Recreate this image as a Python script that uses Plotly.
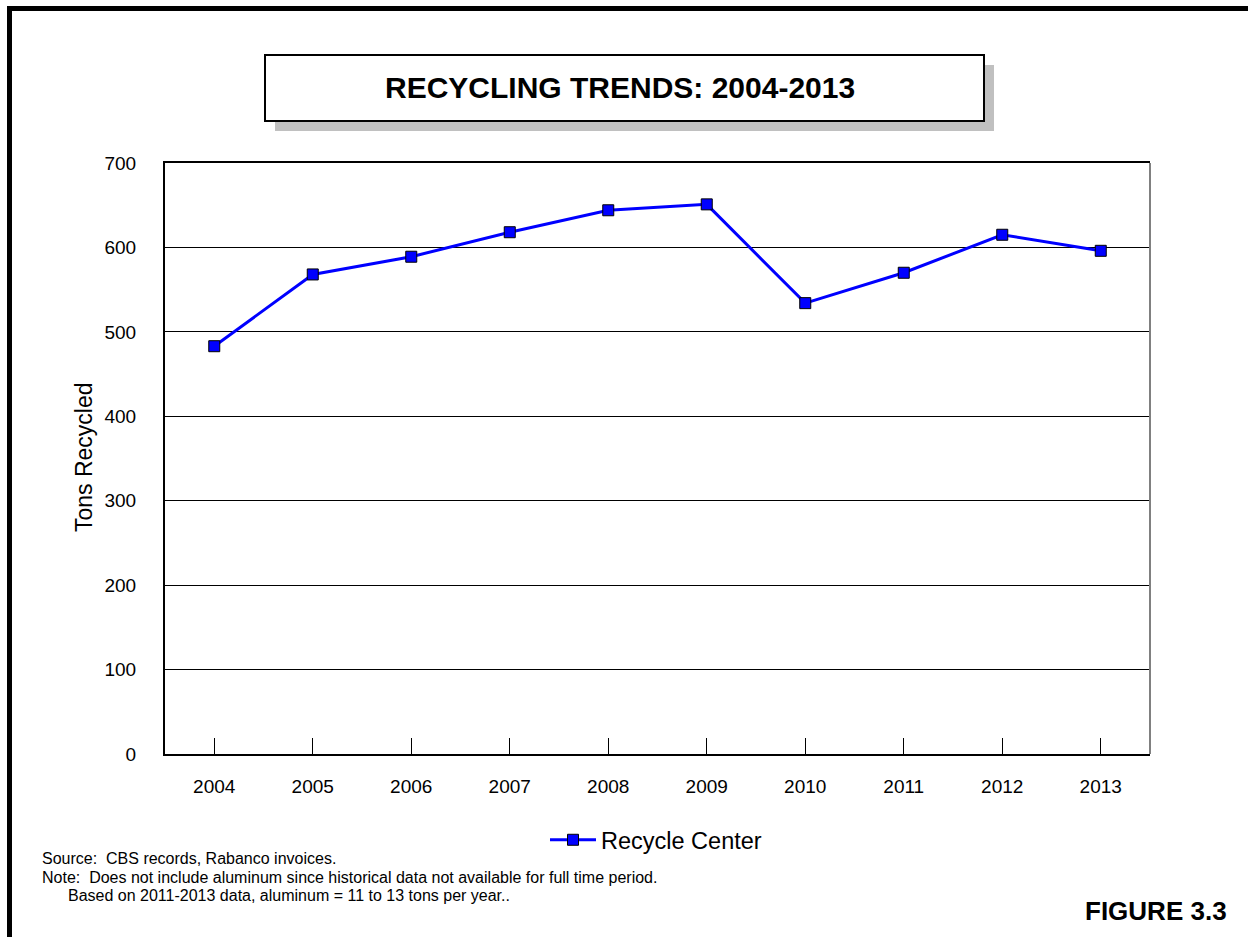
import plotly.graph_objects as go

# Annual tonnage at the recycle center
years = ["2004", "2005", "2006", "2007", "2008", "2009", "2010", "2011", "2012", "2013"]
tons = [483, 568, 589, 618, 644, 651, 534, 570, 615, 596]
series_name = "Recycle Center"

y_ticks = [0, 100, 200, 300, 400, 500, 600, 700]

W, H = 1248, 937
L, R, T, B = 165, 1150, 163, 754  # plot area in pixels
FONT = "Arial, Liberation Sans, sans-serif"


def px(x):
    return (x - L) / (R - L)


def py(y):
    return (B - y) / (B - T)


fig = go.Figure()
fig.add_trace(go.Scatter(
    x=years, y=tons, name=series_name, mode="lines+markers",
    line=dict(color="#0000ff", width=3),
    marker=dict(symbol="square", size=11, color="#0000ff",
                line=dict(color="#000000", width=1)),
))

shapes = [
    # page border (top and left edges)
    dict(type="rect", xref="paper", yref="paper", x0=px(7), x1=px(1300), y0=py(6), y1=py(11),
         fillcolor="#000000", line=dict(width=0), layer="above"),
    dict(type="rect", xref="paper", yref="paper", x0=px(7), x1=px(12), y0=py(6), y1=py(1000),
         fillcolor="#000000", line=dict(width=0), layer="above"),
    # title box with drop shadow
    dict(type="rect", xref="paper", yref="paper", x0=px(275), x1=px(994), y0=py(65), y1=py(131),
         fillcolor="#c0c0c0", line=dict(width=0)),
    dict(type="rect", xref="paper", yref="paper", x0=px(265), x1=px(984), y0=py(55), y1=py(121),
         fillcolor="#ffffff", line=dict(color="#000000", width=2)),
    # right edge of plot frame
    dict(type="line", xref="paper", yref="paper", x0=1, x1=1, y0=0, y1=1,
         line=dict(color="#808080", width=2)),
]

annotations = [
    dict(text="<b>RECYCLING TRENDS: 2004-2013</b>", x=px(620), y=py(88), xref="paper", yref="paper",
         showarrow=False, xanchor="center", yanchor="middle", font=dict(size=30, color="#000000", family=FONT)),
    dict(text="Tons Recycled", x=px(84), y=py(457), xref="paper", yref="paper", textangle=-90,
         showarrow=False, xanchor="center", yanchor="middle", font=dict(size=23, color="#000000", family=FONT)),
    dict(text="Source:  CBS records, Rabanco invoices.", x=px(40), y=py(858), xref="paper", yref="paper",
         showarrow=False, xanchor="left", yanchor="middle", font=dict(size=16, color="#000000", family=FONT)),
    dict(text="Note:  Does not include aluminum since historical data not available for full time period.",
         x=px(40), y=py(877), xref="paper", yref="paper",
         showarrow=False, xanchor="left", yanchor="middle", font=dict(size=16, color="#000000", family=FONT)),
    dict(text="Based on 2011-2013 data, aluminum = 11 to 13 tons per year..",
         x=px(66), y=py(895), xref="paper", yref="paper",
         showarrow=False, xanchor="left", yanchor="middle", font=dict(size=16, color="#000000", family=FONT)),
    dict(text="<b>FIGURE 3.3</b>", x=px(1229), y=py(911), xref="paper", yref="paper",
         showarrow=False, xanchor="right", yanchor="middle", font=dict(size=26, color="#000000", family=FONT)),
]

fig.update_layout(
    width=W, height=H,
    margin=dict(l=L, r=W - R, t=T, b=H - B, pad=0),
    paper_bgcolor="#ffffff", plot_bgcolor="#ffffff",
    font=dict(family=FONT, color="#000000"),
    showlegend=True,
    legend=dict(orientation="h", x=px(545), xanchor="left", y=py(840), yanchor="middle",
                itemwidth=46,
                font=dict(size=23.5, family=FONT, color="#000000"), bgcolor="rgba(0,0,0,0)"),
    shapes=shapes,
    annotations=annotations,
    xaxis=dict(
        type="category", range=[-0.5, len(years) - 0.5],
        showline=True, linecolor="#000000", linewidth=2, mirror=True,
        ticks="inside", ticklen=16, tickcolor="#000000", tickwidth=1,
        showgrid=False, zeroline=False,
        tickfont=dict(size=19, family=FONT, color="#000000"),
        ticklabelstandoff=14,
    ),
    yaxis=dict(
        range=[0, 700], tickvals=y_ticks, ticktext=[str(v) for v in y_ticks],
        showline=True, linecolor="#000000", linewidth=2,
        ticks="", showgrid=True, gridcolor="#000000", gridwidth=1, zeroline=False,
        tickfont=dict(size=19, family=FONT, color="#000000"),
        ticklabelstandoff=23,
    ),
)

fig.write_html("out.html")
